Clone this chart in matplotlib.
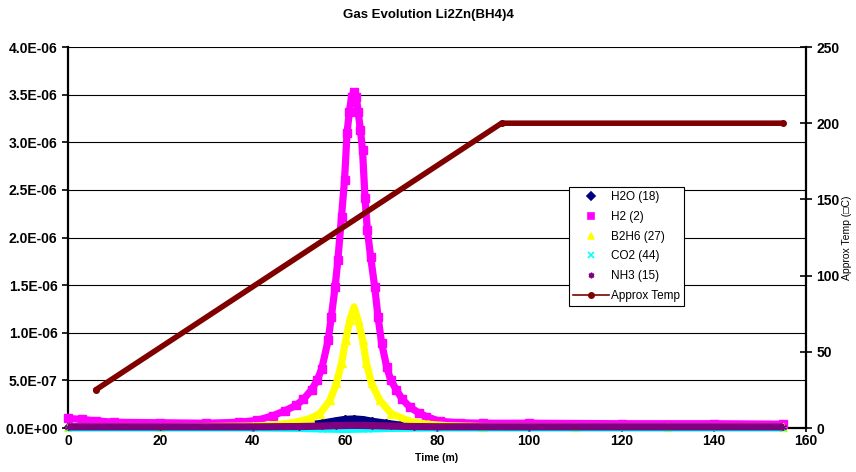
import numpy as np
import matplotlib
matplotlib.use('Agg')
import matplotlib.pyplot as plt
from matplotlib.lines import Line2D
from matplotlib.ticker import FuncFormatter

plt.rcParams['font.family'] = ['Liberation Sans', 'DejaVu Sans']

# Gas signals (values in units of 1e-6)
h2o_t = [0, 20, 40, 48, 52, 55, 58, 60, 62, 64, 66, 69, 72, 76, 80, 100, 155]
h2o_v = [0.01, 0.01, 0.012, 0.02, 0.03, 0.05, 0.075, 0.09, 0.095, 0.088, 0.07,
         0.05, 0.03, 0.02, 0.012, 0.01, 0.01]

h2_t = [0, 3, 6, 10, 20, 30, 37, 41, 44.5, 47, 49.5, 51, 52.8, 54, 55, 56.4,
        57.1, 57.9, 58.5, 59.3, 59.95, 60.5, 61.0, 61.5, 62.0, 62.5, 62.9,
        63.4, 63.85, 64.4, 64.9, 65.6, 66.5, 67.2, 68.0, 69.1, 70, 71.2, 72.5,
        74.1, 76, 77.7, 80.6, 85, 90, 100, 120, 140, 155]
h2_v = [0.10, 0.09, 0.075, 0.06, 0.055, 0.05, 0.06, 0.08, 0.13, 0.18, 0.24,
        0.30, 0.40, 0.50, 0.62, 0.92, 1.17, 1.48, 1.76, 2.22, 2.60, 3.10, 3.32,
        3.48, 3.53, 3.48, 3.32, 3.13, 2.92, 2.41, 2.08, 1.80, 1.48, 1.17, 0.89,
        0.64, 0.50, 0.40, 0.30, 0.22, 0.16, 0.12, 0.07, 0.055, 0.05, 0.05,
        0.045, 0.045, 0.04]

b2h6_t = [0, 20, 40, 44, 47, 50.3, 52.5, 54.6, 56.8, 58.2, 59.3, 60.2, 61.1,
          62.0, 62.9, 63.9, 64.7, 65.8, 67.6, 70.1, 74.1, 78, 82, 90, 110,
          130, 155]
b2h6_v = [0.01, 0.01, 0.02, 0.03, 0.045, 0.07, 0.10, 0.15, 0.29, 0.47, 0.68,
          0.92, 1.13, 1.27, 1.13, 0.92, 0.68, 0.47, 0.29, 0.15, 0.07, 0.04,
          0.025, 0.015, 0.01, 0.01, 0.01]

co2_t = [0, 40, 50, 55, 60, 65, 70, 80, 155]
co2_v = [0.0, 0.0, -0.004, -0.01, -0.015, -0.01, -0.004, 0.0, 0.0]

nh3_t = [0, 20, 40, 50, 55, 58, 62, 66, 70, 75, 80, 100, 155]
nh3_v = [0.012, 0.012, 0.012, 0.015, 0.02, 0.025, 0.028, 0.025, 0.02, 0.015,
         0.013, 0.012, 0.012]

# Approximate temperature ramp (deg C)
temp_t = [6, 94, 155]
temp_v = [25, 200, 200]

fig = plt.figure(figsize=(8.56, 4.72), dpi=100)
ax = fig.add_axes([68 / 856, 44 / 472, 738 / 856, 381 / 472])

series = [
    ('H2O (18)', h2o_t, h2o_v, '#000080', 'D', 4.5),
    ('H2 (2)', h2_t, h2_v, '#FF00FF', 's', 5.5),
    ('B2H6 (27)', b2h6_t, b2h6_v, '#FFFF00', '^', 5.5),
    ('CO2 (44)', co2_t, co2_v, '#00FFFF', 'x', 5),
    ('NH3 (15)', nh3_t, nh3_v, '#800080', (6, 2, 0), 5),
]
handles = []
for name, t, v, c, m, ms in series:
    ax.plot(t, np.array(v) * 1e-6, color=c, lw=5.2, marker=m, ms=ms,
            mec=c, mfc=c, solid_capstyle='butt', clip_on=False, zorder=3)
    handles.append(Line2D([], [], ls='none', marker=m, color=c, ms=4,
                          mec=c, mfc=c, mew=1.2))

ax.set_xlim(0, 160)
ax.set_ylim(0, 4e-6)
ax.set_xticks(np.arange(0, 161, 20))
ax.set_yticks(np.arange(0, 4.01e-6, 0.5e-6))
ax.yaxis.set_major_formatter(FuncFormatter(lambda y, p: '{:.1E}'.format(y)))
ax.grid(axis='y', color='black', lw=0.8)
ax.set_axisbelow(True)
for s in ['left', 'bottom']:
    ax.spines[s].set_linewidth(1.6)
ax.spines['top'].set_visible(False)
ax.spines['right'].set_visible(False)
ax.tick_params(axis='y', direction='out', length=4, width=1.2, labelsize=10)
ax.tick_params(axis='x', direction='out', length=3, width=1.2, labelsize=10,
               pad=1)
for lab in ax.get_xticklabels() + ax.get_yticklabels():
    lab.set_fontweight('bold')
ax.set_xlabel('Time (m)', fontsize=7.5, fontweight='bold', labelpad=4)

ax2 = ax.twinx()
ax2.plot(temp_t, temp_v, color='#800000', lw=4, marker='o', ms=4,
         solid_capstyle='round', zorder=3)
ax2.set_ylim(0, 250)
ax2.set_yticks(np.arange(0, 251, 50))
for s in ['left', 'bottom', 'top']:
    ax2.spines[s].set_visible(False)
ax2.spines['right'].set_linewidth(1.6)
ax2.tick_params(axis='y', direction='inout', length=8, width=1.2, labelsize=10)
for lab in ax2.get_yticklabels():
    lab.set_fontweight('bold')
ax2.set_ylabel('Approx Temp (\u25a1C)', fontsize=7.5, labelpad=2,
               family=['Liberation Sans', 'DejaVu Sans'])

handles.append(Line2D([], [], color='#800000', lw=1.2, marker='o', ms=4))
labels = [s[0] for s in series] + ['Approx Temp']
leg = ax2.legend(handles, labels, loc='upper left',
                 bbox_to_anchor=(0.679, 0.632), fontsize=8.5, frameon=True,
                 fancybox=False, edgecolor='black', framealpha=1,
                 labelspacing=0.65, handlelength=3.0, handletextpad=0.2,
                 borderpad=0.35, borderaxespad=0)
leg.set_zorder(10)
leg.get_frame().set_linewidth(0.8)

fig.text(0.5, 0.968, 'Gas Evolution Li2Zn(BH4)4', ha='center', va='center',
         fontsize=9.5, fontweight='bold')

fig.savefig('out.png', dpi=100)
